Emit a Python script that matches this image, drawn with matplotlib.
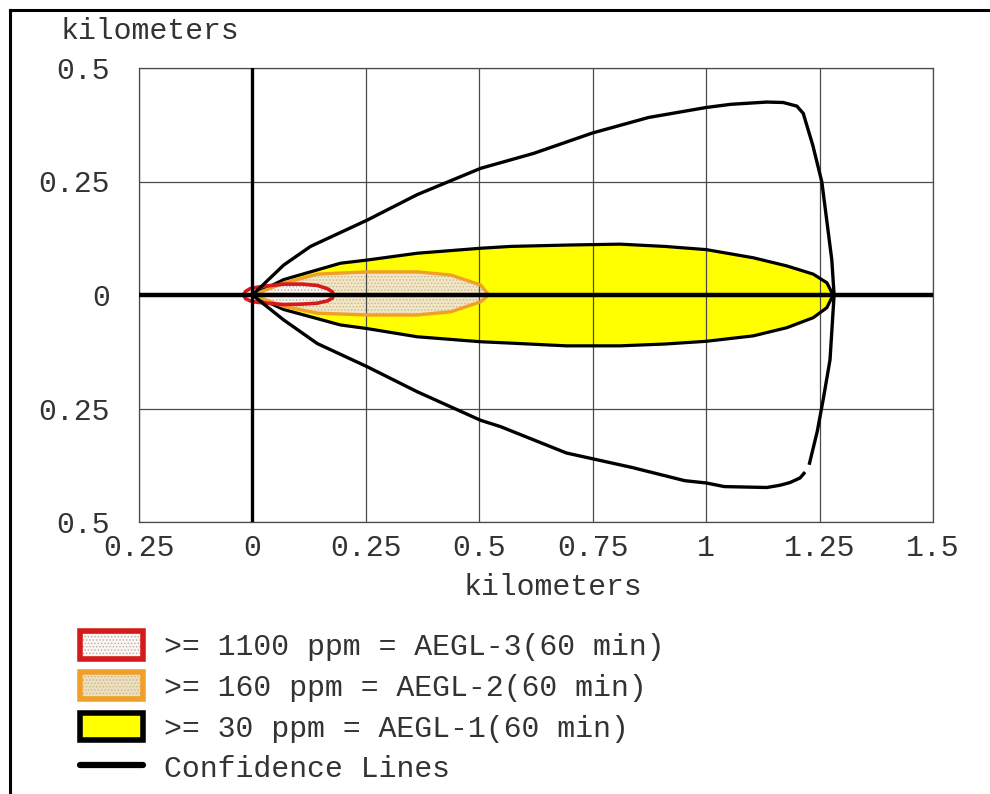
import numpy as np
import matplotlib
matplotlib.use('Agg')
import matplotlib.pyplot as plt
from matplotlib.patches import Patch
from matplotlib.lines import Line2D

plt.rcParams['font.family'] = ['Liberation Mono', 'DejaVu Sans Mono']
plt.rcParams['hatch.linewidth'] = 0.6

# threat zones (km), upper / lower edge along downwind distance
aegl3_x = [-0.02, -0.015, -0.005, 0.01, 0.032, 0.069, 0.11, 0.143, 0.165, 0.176, 0.179]
aegl3_up = [0, 0.008, 0.014, 0.017, 0.020, 0.024, 0.024, 0.021, 0.014, 0.007, 0]
aegl3_lo = [0, -0.008, -0.013, -0.016, -0.018, -0.021, -0.020, -0.018, -0.013, -0.007, 0]

aegl2_x = [0, 0.069, 0.143, 0.253, 0.363, 0.437, 0.503, 0.521]
aegl2_up = [0, 0.026, 0.046, 0.051, 0.051, 0.044, 0.022, 0]
aegl2_lo = [0, -0.025, -0.040, -0.044, -0.044, -0.037, -0.015, 0]

aegl1_x = [0, 0.069, 0.128, 0.194, 0.253, 0.363, 0.503, 0.569, 0.692, 0.81,
           0.909, 1.0, 1.104, 1.178, 1.236, 1.266, 1.28]
aegl1_up = [0, 0.034, 0.051, 0.070, 0.077, 0.092, 0.103, 0.107, 0.110, 0.112,
            0.107, 0.100, 0.082, 0.064, 0.046, 0.027, 0]
aegl1_lo = [0, -0.032, -0.048, -0.066, -0.074, -0.092, -0.103, -0.106, -0.112, -0.112,
            -0.108, -0.102, -0.090, -0.072, -0.050, -0.028, 0]

# confidence lines
conf_up_x = [0, 0.069, 0.128, 0.253, 0.363, 0.503, 0.62, 0.75, 0.873, 1.0, 1.054,
             1.134, 1.17, 1.2, 1.214, 1.235, 1.255, 1.277, 1.282, 1.273, 1.258, 1.245, 1.227]
conf_up_y = [0, 0.066, 0.107, 0.165, 0.221, 0.279, 0.312, 0.357, 0.391, 0.413, 0.420,
             0.425, 0.424, 0.416, 0.400, 0.330, 0.249, 0.077, 0, -0.143, -0.230, -0.300, -0.374]
conf_lo_x = [0, 0.069, 0.143, 0.253, 0.363, 0.503, 0.547, 0.692, 0.837, 0.953, 1.0,
             1.04, 1.134, 1.163, 1.185, 1.207, 1.218]
conf_lo_y = [0, -0.055, -0.107, -0.158, -0.213, -0.276, -0.290, -0.348, -0.380, -0.409, -0.414,
             -0.422, -0.424, -0.419, -0.413, -0.403, -0.390]

xticks = [-0.25, 0, 0.25, 0.5, 0.75, 1, 1.25, 1.5]
xticklabels = ['0.25', '0', '0.25', '0.5', '0.75', '1', '1.25', '1.5']
yticks = [0.5, 0.25, 0, -0.25, -0.5]
yticklabels = ['0.5', '0.25', '0', '0.25', '0.5']

legend_labels = ['>= 1100 ppm = AEGL-3(60 min)',
                 '>= 160 ppm = AEGL-2(60 min)',
                 '>= 30 ppm = AEGL-1(60 min)',
                 'Confidence Lines']

txt = '#333333'
fs = 21.5
red = '#d41a1a'
orange = '#f0a028'

fig = plt.figure(figsize=(9.9, 7.94), dpi=100)
ax = fig.add_axes([139/990, 1 - 522/794, 794/990, 454/794])


def zone(x, up, lo, face, edge, hatch, hatchcol, lw):
    px = np.concatenate([x, x[::-1]])
    py = np.concatenate([up, lo[::-1]])
    ax.fill(px, py, facecolor=face, edgecolor=hatchcol, hatch=hatch, lw=0, zorder=1)
    ax.fill(px, py, facecolor='none', edgecolor=edge, lw=lw, zorder=3)


zone(np.array(aegl1_x), np.array(aegl1_up), np.array(aegl1_lo), '#ffff00', 'black', None, 'black', 2.3)
zone(np.array(aegl2_x), np.array(aegl2_up), np.array(aegl2_lo), '#f1e6c6', orange, '.....', '#c9b58a', 2.4)
zone(np.array(aegl3_x), np.array(aegl3_up), np.array(aegl3_lo), '#fbf6f2', red, '.....', '#b9aaa6', 2.6)

ax.plot(conf_up_x, conf_up_y, color='black', lw=2.4, zorder=3, solid_capstyle='butt')
ax.plot(conf_lo_x, conf_lo_y, color='black', lw=2.4, zorder=3, solid_capstyle='butt')

ax.axhline(0, color='black', lw=3.2, zorder=4)
ax.axvline(0, color='black', lw=2.4, zorder=4)

ax.set_xlim(-0.25, 1.5)
ax.set_ylim(-0.5, 0.5)
ax.set_xticks(xticks)
ax.set_xticklabels(xticklabels)
ax.set_yticks(yticks)
ax.set_yticklabels(yticklabels)
ax.tick_params(length=0, labelsize=fs, labelcolor=txt)
ax.tick_params(axis='y', pad=21)
ax.tick_params(axis='x', pad=9)
ax.set_axisbelow(False)
ax.grid(True, color='#4a4a4a', lw=0.9)
for s in ax.spines.values():
    s.set_color('#4a4a4a')
    s.set_linewidth(0.9)

ax.set_xlabel('kilometers', fontsize=fs, color=txt)
ax.xaxis.set_label_coords((553 - 139) / 794, (522 - 587) / 454)
ax.xaxis.label.set_va('center')
fig.text(60/990, 1 - 31/794, 'kilometers', fontsize=fs, color=txt, va='center', ha='left')

handles = [
    (Patch(facecolor='#fbf6f2', edgecolor='#b9aaa6', hatch='.....', lw=0),
     Patch(facecolor='none', edgecolor=red, lw=4)),
    (Patch(facecolor='#ecdfc0', edgecolor='#c9b58a', hatch='.....', lw=0),
     Patch(facecolor='none', edgecolor=orange, lw=4)),
    Patch(facecolor='#ffff00', edgecolor='black', lw=4),
    Line2D([], [], color='black', lw=4.5, solid_capstyle='round'),
]
fig.legend(handles, legend_labels, loc='upper left', bbox_to_anchor=(80/990, 1 - 631/794),
           frameon=False, fontsize=fs, handlelength=2.1, handleheight=1.05,
           handletextpad=0.7, labelspacing=0.36, borderpad=0, borderaxespad=0,
           labelcolor=txt)

# outer frame (top and left edges)
fig.add_artist(Line2D([10/990, 1], [1 - 10/794, 1 - 10/794], color='black', lw=2.2))
fig.add_artist(Line2D([10/990, 10/990], [0, 1 - 10/794], color='black', lw=2.2))

fig.savefig('out.png', dpi=100)
